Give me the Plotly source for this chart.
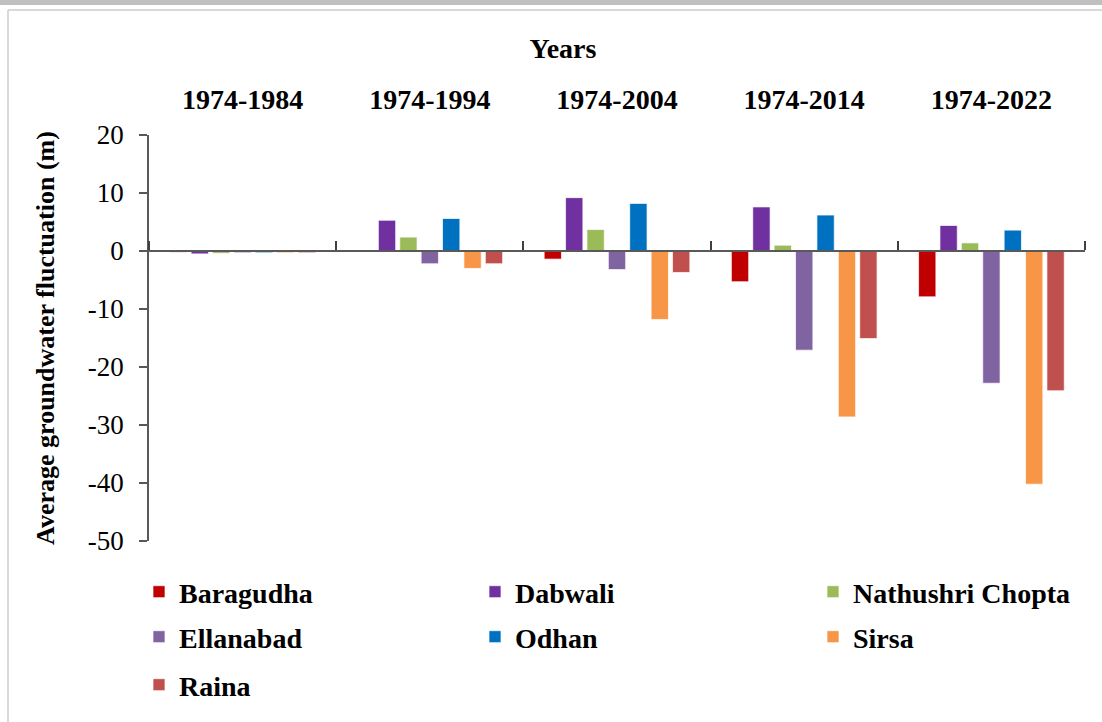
import plotly.graph_objects as go

periods = ["1974-1984", "1974-1994", "1974-2004", "1974-2014", "1974-2022"]
stations = ["Baragudha", "Dabwali", "Nathushri Chopta", "Ellanabad", "Odhan", "Sirsa", "Raina"]
colors = ["#C00000", "#7030A0", "#9BBB59", "#8064A2", "#0070C0", "#F79646", "#C0504D"]

baragudha = [-0.2, 0.0, -1.4, -5.3, -7.9]
dabwali = [-0.5, 5.3, 9.2, 7.6, 4.4]
nathushri = [-0.4, 2.4, 3.7, 1.0, 1.4]
ellanabad = [-0.3, -2.2, -3.2, -17.1, -22.8]
odhan = [-0.3, 5.6, 8.2, 6.2, 3.6]
sirsa = [-0.3, -3.0, -11.8, -28.6, -40.2]
raina = [-0.3, -2.2, -3.7, -15.1, -24.1]
series = [baragudha, dabwali, nathushri, ellanabad, odhan, sirsa, raina]

y_ticks = [-50, -40, -30, -20, -10, 0, 10, 20]
y_min, y_max = -50, 20

FONT = "Liberation Serif, Times New Roman, serif"
W, H = 1102, 722
ML, MR, MT, MB = 149, 17, 135, 181
PW, PH = W - ML - MR, H - MT - MB


def px_x(p):
    return (p - ML) / PW


def px_y(p):
    return (H - MB - p) / PH


# legend placement (one legend per entry, 3 columns)
leg_cols = [139, 475, 813]
leg_rows = [592, 637, 685]
leg_names = ["legend"] + ["legend%d" % i for i in range(2, len(stations) + 1)]

fig = go.Figure()
for i, (name, vals, col) in enumerate(zip(stations, series, colors)):
    fig.add_trace(go.Bar(
        x=periods, y=vals, name=name, legend=leg_names[i],
        marker=dict(color=col, line=dict(color="rgba(255,255,255,0.7)", width=1)),
    ))

zero_pos = (0 - y_min) / (y_max - y_min)

legends = {}
for i, ln in enumerate(leg_names):
    legends[ln] = dict(
        x=px_x(leg_cols[i % 3]), y=px_y(leg_rows[i // 3]),
        xanchor="left", yanchor="middle", orientation="h",
        font=dict(family=FONT, size=28, color="black", weight="bold"),
        bgcolor="rgba(0,0,0,0)", itemclick=False,
    )

fig.update_layout(
    width=W, height=H,
    margin=dict(l=ML, r=MR, t=MT, b=MB),
    paper_bgcolor="white", plot_bgcolor="white",
    font=dict(family=FONT, size=28, color="black"),
    barmode="group", bargap=0.2, bargroupgap=0.19,
    title=dict(text="<b>Years</b>", xref="container", yref="container",
               x=563 / W, y=1 - 48 / H, xanchor="center", yanchor="middle",
               font=dict(family=FONT, size=28, color="black")),
    xaxis=dict(
        type="category", side="top", showline=False, showgrid=False, zeroline=False,
        ticks="outside", ticklen=14, tickcolor="rgba(0,0,0,0)",
        tickfont=dict(family=FONT, size=28, color="black", weight="bold"),
        range=[-0.5, len(periods) - 0.5],
    ),
    xaxis2=dict(
        overlaying="x", anchor="free", position=zero_pos, side="top",
        range=[-0.5, len(periods) - 0.5], showgrid=False, zeroline=False,
        showline=True, linecolor="#595959", linewidth=2,
        ticks="outside", ticklen=9, tickwidth=2, tickcolor="#404040",
        tickvals=[i - 0.5 for i in range(len(periods) + 1)],
        showticklabels=False,
    ),
    yaxis=dict(
        range=[y_min, y_max], tickmode="array", tickvals=y_ticks,
        ticktext=[str(v) for v in y_ticks],
        showgrid=False, zeroline=False,
        showline=True, linecolor="#595959", linewidth=1.5,
        ticks="outside", ticklen=8, tickcolor="#595959", tickwidth=1.5,
        ticklabelstandoff=10,
        tickfont=dict(family=FONT, size=27, color="black"),
        title=dict(text="<b>Average groundwater fluctuation (m)</b>", standoff=26,
                   font=dict(family=FONT, size=26, color="black")),
    ),
    shapes=[
        dict(type="rect", xref="paper", yref="paper",
             x0=px_x(0), x1=px_x(W), y0=px_y(5), y1=px_y(0),
             fillcolor="#c0c0c0", line=dict(width=0), layer="above"),
        dict(type="line", xref="paper", yref="paper",
             x0=px_x(8), x1=px_x(W), y0=px_y(10), y1=px_y(10),
             line=dict(color="#d9d9d9", width=2)),
        dict(type="line", xref="paper", yref="paper",
             x0=px_x(8), x1=px_x(8), y0=px_y(10), y1=px_y(H),
             line=dict(color="#d9d9d9", width=2)),
    ],
    **legends,
)
# invisible trace so the secondary axis is rendered
fig.add_trace(go.Scatter(x=[0], y=[None], xaxis="x2", showlegend=False, hoverinfo="skip"))

fig.write_html("out.html", config={"displayModeBar": False},
               post_script="document.body.style.margin='0px';")
